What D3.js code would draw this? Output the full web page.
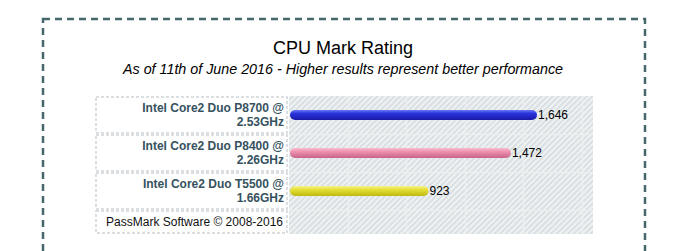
<!DOCTYPE html>
<html>
<head>
<meta charset="utf-8">
<script src="https://cdn.jsdelivr.net/npm/d3@7"></script>
<style>
  html, body { margin: 0; padding: 0; background: #fff; }
  svg { display: block; font-family: "Liberation Sans", Arial, sans-serif; }
</style>
</head>
<body>
<svg id="chart" width="682" height="251"></svg>
<script>
const cpus = ["Intel Core2 Duo P8700 @ 2.53GHz", "Intel Core2 Duo P8400 @ 2.26GHz", "Intel Core2 Duo T5500 @ 1.66GHz"];
const scores = [1646, 1472, 923];
const barColors = [
  ["#6a78f2", "#2a32dc", "#1a1aa6"],
  ["#f9bccf", "#ee92b0", "#c9628a"],
  ["#f6f38a", "#e5e13a", "#bdb90e"]
];
const title = "CPU Mark Rating";
const subtitle = "As of 11th of June 2016 - Higher results represent better performance";
const footer = "PassMark Software \u00A9 2008-2016";

const svg = d3.select("#chart");
const defs = svg.append("defs");

// hatch pattern
const pat = defs.append("pattern").attr("id", "hatch")
  .attr("patternUnits", "userSpaceOnUse").attr("width", 4).attr("height", 4)
  .attr("patternTransform", "rotate(45)");
pat.append("rect").attr("width", 4).attr("height", 4).attr("fill", "#d9dfe2");
pat.append("rect").attr("width", 2).attr("height", 4).attr("fill", "#eff2f3");

barColors.forEach((c, i) => {
  const g = defs.append("linearGradient").attr("id", "bar" + i)
    .attr("x1", 0).attr("y1", 0).attr("x2", 0).attr("y2", 1);
  g.append("stop").attr("offset", "0").attr("stop-color", c[0]);
  g.append("stop").attr("offset", "0.35").attr("stop-color", c[1]);
  g.append("stop").attr("offset", "1").attr("stop-color", c[2]);
});

// outer dashed frame
svg.append("rect").attr("x", 43).attr("y", 19).attr("width", 602).attr("height", 300)
  .attr("fill", "none").attr("stroke", "#46676c").attr("stroke-width", 2.5)
  .attr("stroke-dasharray", "7,5");

// titles
svg.append("text").attr("x", 343).attr("y", 54).attr("text-anchor", "middle")
  .attr("font-size", 18).attr("fill", "#000").text(title);
svg.append("text").attr("x", 343).attr("y", 74).attr("text-anchor", "middle")
  .attr("font-size", 14.3).attr("font-style", "italic").attr("fill", "#000").text(subtitle);

// layout
const tableLeft = 95, labelRight = 288, chartLeft = 289, chartRight = 593;
const y = d3.scaleBand().domain(cpus).range([96, 210]).paddingInner(0);
const footerTop = 210, footerBottom = 234;
const x = d3.scaleLinear().domain([0, 1646]).range([chartLeft + 1, 537]);

// chart background
svg.append("rect").attr("x", chartLeft).attr("y", 96).attr("width", chartRight - chartLeft)
  .attr("height", footerBottom - 96).attr("fill", "url(#hatch)");

// grid (background tiling)
const gx = d3.scaleLinear().domain([0, 1]).range([chartLeft, chartLeft + 58.5]);
svg.append("g").selectAll("line").data(d3.range(1, 6)).join("line")
  .attr("x1", d => Math.round(gx(d)) + 0.5).attr("x2", d => Math.round(gx(d)) + 0.5)
  .attr("y1", 96).attr("y2", footerBottom)
  .attr("stroke", "#eceff0").attr("stroke-width", 1.5);
svg.append("g").selectAll("line").data(cpus.slice(1).concat(["__footer"])).join("line")
  .attr("x1", chartLeft).attr("x2", chartRight)
  .attr("y1", d => d === "__footer" ? footerTop + 0.5 : y(d) + 0.5)
  .attr("y2", d => d === "__footer" ? footerTop + 0.5 : y(d) + 0.5)
  .attr("stroke", "#eceff0").attr("stroke-width", 1.5);

// label cells
const cellG = svg.append("g");
cpus.forEach(c => {
  cellG.append("rect").attr("x", tableLeft + 1).attr("y", y(c) + 1)
    .attr("width", labelRight - tableLeft - 2).attr("height", y.bandwidth() - 2)
    .attr("fill", "#fff").attr("stroke", "#cfd5d8").attr("stroke-width", 1.5)
    .attr("stroke-dasharray", "3,2");
});
cellG.append("rect").attr("x", tableLeft + 1).attr("y", footerTop + 1)
  .attr("width", labelRight - tableLeft - 2).attr("height", footerBottom - footerTop - 2)
  .attr("fill", "#fff").attr("stroke", "#cfd5d8").attr("stroke-width", 1.5)
  .attr("stroke-dasharray", "3,2");

// labels
const lab = svg.append("g").selectAll("text").data(cpus).join("text")
  .attr("text-anchor", "end").attr("font-size", 12).attr("font-weight", "bold")
  .attr("fill", "#36525e");
lab.each(function (d) {
  const parts = d.split(" @ ");
  const cy = y(d) + y.bandwidth() / 2;
  const t = d3.select(this);
  t.append("tspan").attr("x", 284).attr("y", cy - 3).text(parts[0] + " @");
  t.append("tspan").attr("x", 284).attr("y", cy + 11).text(parts[1]);
});

svg.append("text").attr("x", 283).attr("y", 226).attr("text-anchor", "end")
  .attr("font-size", 12).attr("fill", "#111").text(footer);

// bars
const barH = 10;
svg.append("g").selectAll("rect").data(cpus).join("rect")
  .attr("x", x(0)).attr("y", d => y(d) + y.bandwidth() / 2 - barH / 2)
  .attr("width", (d, i) => x(scores[i]) - x(0)).attr("height", barH)
  .attr("rx", 5).attr("ry", 5)
  .attr("fill", (d, i) => "url(#bar" + i + ")");

svg.append("g").selectAll("text").data(cpus).join("text")
  .attr("x", (d, i) => x(scores[i]) + 1).attr("y", d => y(d) + y.bandwidth() / 2 + 4)
  .attr("font-size", 12).attr("fill", "#000")
  .text((d, i) => d3.format(",")(scores[i]));
</script>
</body>
</html>
